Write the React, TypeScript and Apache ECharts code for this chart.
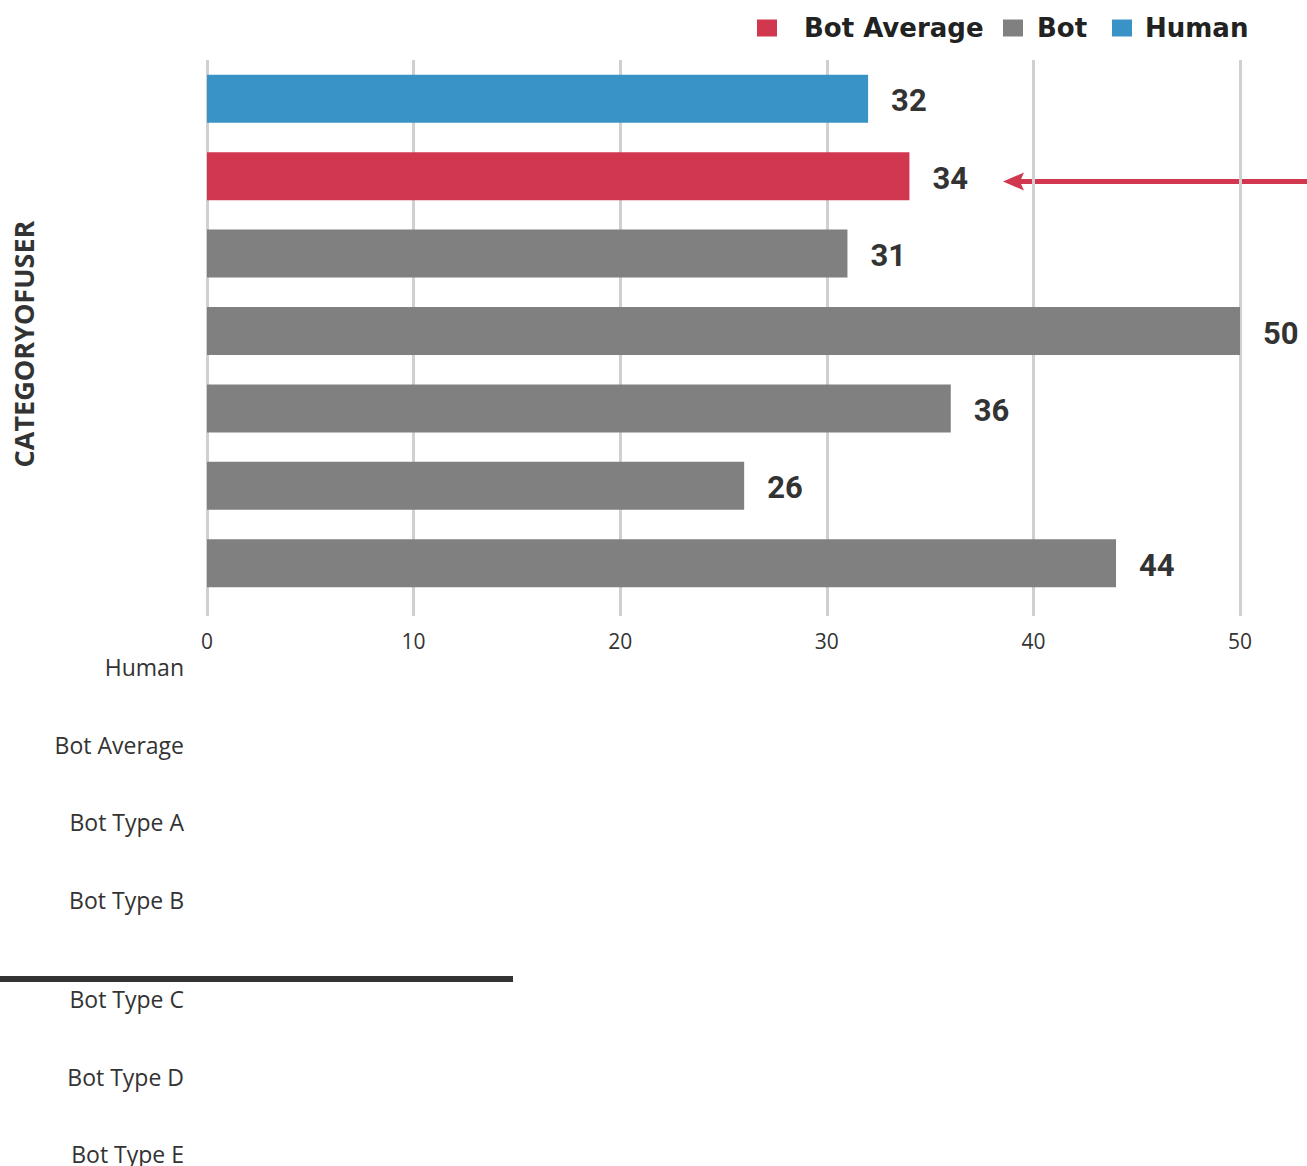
import React, { useEffect, useRef } from "react";
import * as echarts from "echarts";

const categories = ["Human", "Bot Average", "Bot Type A", "Bot Type B", "Bot Type C", "Bot Type D", "Bot Type E"];
const values = [32, 34, 31, 50, 36, 26, 44];
const groups = ["Human", "Bot Average", "Bot", "Bot", "Bot", "Bot", "Bot"];
const seriesNames = ["Bot Average", "Bot", "Human"];
const seriesColors: Record<string, string> = { "Bot Average": "#d13850", Bot: "#808080", Human: "#3a93c6" };
const xTicks = [0, 10, 20, 30, 40, 50];
const axisTitle = "CATEGORYOFUSER";

export default function App() {
  const ref = useRef<HTMLDivElement>(null);
  useEffect(() => {
    if (!ref.current) return;
    const chart = echarts.init(ref.current, null, { renderer: "svg" });
    const series = seriesNames.map((name) => ({
      name,
      type: "bar",
      stack: "all",
      barWidth: 48,
      itemStyle: { color: seriesColors[name] },
      label: {
        show: true,
        position: "right",
        distance: 23,
        offset: [0, 2],
        fontFamily: "Roboto",
        fontWeight: "bold",
        fontSize: 31,
        color: "#333",
      },
      data: values.map((v, i) => (groups[i] === name ? v : "-")),
    }));
    const catTexts = categories.map((c, i) => ({
      type: "text",
      x: 184,
      y: 667 + i * 77.5 + (i >= 4 ? 22 : 0),
      style: {
        text: c,
        textAlign: "right",
        textVerticalAlign: "middle",
        fontFamily: "Open Sans",
        fontSize: 23,
        fill: "#333",
      },
    }));
    const legendPos: Record<string, { left: number; pad: number }> = {
      "Bot Average": { left: 752, pad: 22 },
      Bot: { left: 998, pad: 9 },
      Human: { left: 1107, pad: 8 },
    };
    const legends = seriesNames.map((name) => ({
      top: 10,
      left: legendPos[name].left,
      itemWidth: 20,
      itemHeight: 17,
      icon: "rect",
      textStyle: {
        fontFamily: "DejaVu Sans",
        fontWeight: "bold",
        fontSize: 26,
        color: "#222",
        padding: [0, 0, 0, legendPos[name].pad],
      },
      data: [name],
    }));
    chart.setOption({
      animation: false,
      legend: legends,
      grid: { left: 207, right: 67, top: 60, bottom: 1166 - 602, containLabel: false },
      xAxis: {
        type: "value",
        min: xTicks[0],
        max: xTicks[xTicks.length - 1],
        interval: 10,
        axisLine: { show: false },
        axisTick: { show: true, length: 14, lineStyle: { color: "#d0d0d0", width: 3 } },
        splitLine: { show: true, lineStyle: { color: "#d0d0d0", width: 3 } },
        axisLabel: { margin: 28, fontFamily: "Open Sans", fontSize: 21, color: "#333" },
      },
      yAxis: {
        type: "category",
        inverse: true,
        data: categories,
        axisLine: { show: false },
        axisTick: { show: false },
        axisLabel: { show: false },
      },
      series,
      graphic: [
        ...catTexts,
        {
          type: "text",
          x: 23,
          y: 344,
          rotation: Math.PI / 2,
          style: {
            text: axisTitle,
            textAlign: "center",
            textVerticalAlign: "middle",
            fontFamily: "Open Sans",
            fontWeight: "bold",
            fontSize: 27,
            fill: "#333",
          },
        },
        {
          type: "line",
          shape: { x1: 0, y1: 979, x2: 513, y2: 979 },
          style: { stroke: "#333", lineWidth: 6 },
        },
        {
          type: "line",
          shape: { x1: 1307, y1: 181.5, x2: 1018, y2: 181.5 },
          style: { stroke: "#d13850", lineWidth: 5 },
        },
        {
          type: "polygon",
          shape: { points: [[1003, 181.5], [1024, 172.5], [1020, 181.5], [1024, 190.5]] },
          style: { fill: "#d13850" },
        },
      ],
    });
    return () => chart.dispose();
  }, []);
  return <div ref={ref} style={{ position: "absolute", left: 0, top: 0, width: 1307, height: 1166 }} />;
}
